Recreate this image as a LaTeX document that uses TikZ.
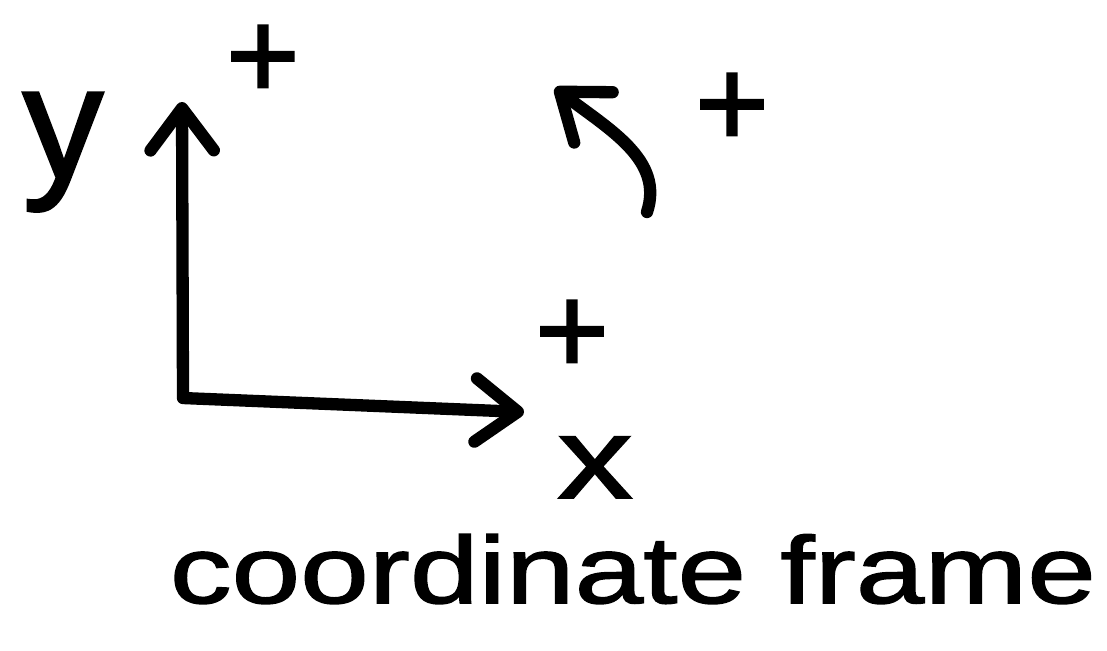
\documentclass[tikz,border=0pt]{standalone}
\usepackage{fontspec}
\newfontfamily\sketchfont[FakeStretch=1.3, FakeBold=1.6]{Liberation Sans}
\newfontfamily\sketchnarrow[FakeBold=1.6]{Liberation Sans}
\usepackage{tikz}
\usetikzlibrary{arrows.meta}

\begin{document}
\begin{tikzpicture}[
    x=0.01cm, y=-0.01cm,
    axis/.style={
      line width=3.5pt,
      line cap=round,
      line join=round,
      color=black
    },
    barb/.tip={Straight Barb[length=12pt, width=18pt, line cap=round, line join=round]},
    sign/.style={
      inner sep=0pt,
      font=\sketchnarrow\fontsize{36}{36}\selectfont
    },
    label/.style={
      inner sep=0pt,
      font=\sketchfont\fontsize{33}{33}\selectfont
    }
  ]
    \useasboundingbox (0,0) rectangle (1107,650);

    % Corner of the frame and the two axis tips
    \coordinate (origin) at (183,398);
    \coordinate (ytip)   at (182,102);
    \coordinate (xtip)   at (524,412);

    % Start and tip of the rotation arrow
    \coordinate (rotstart) at (647,212);
    \coordinate (rottip)   at (555,88);

    % Axes
    \draw[axis, barb-barb] (ytip) -- (origin) -- (xtip);

    % Positive rotation
    \draw[axis, -barb] (rotstart) .. controls (664,160) and (610,130) .. (rottip);

    % Axis names
    \node[label, font=\sketchnarrow\fontsize{46}{46}\selectfont, anchor=base]
      (ylabel) at (63,178) {y};
    \node[label, anchor=base] (xlabel) at (595,498) {x};

    % Positive directions
    \node[sign] (yplus)   at (263,62)  {+};
    \node[sign] (xplus)   at (572,337) {+};
    \node[sign] (rotplus) at (732,110) {+};

    % Caption
    \node[label, font=\sketchfont\fontsize{27}{27}\selectfont, anchor=base]
      (caption) at (633,603) {coordinate frame};
  \end{tikzpicture}
\end{document}
